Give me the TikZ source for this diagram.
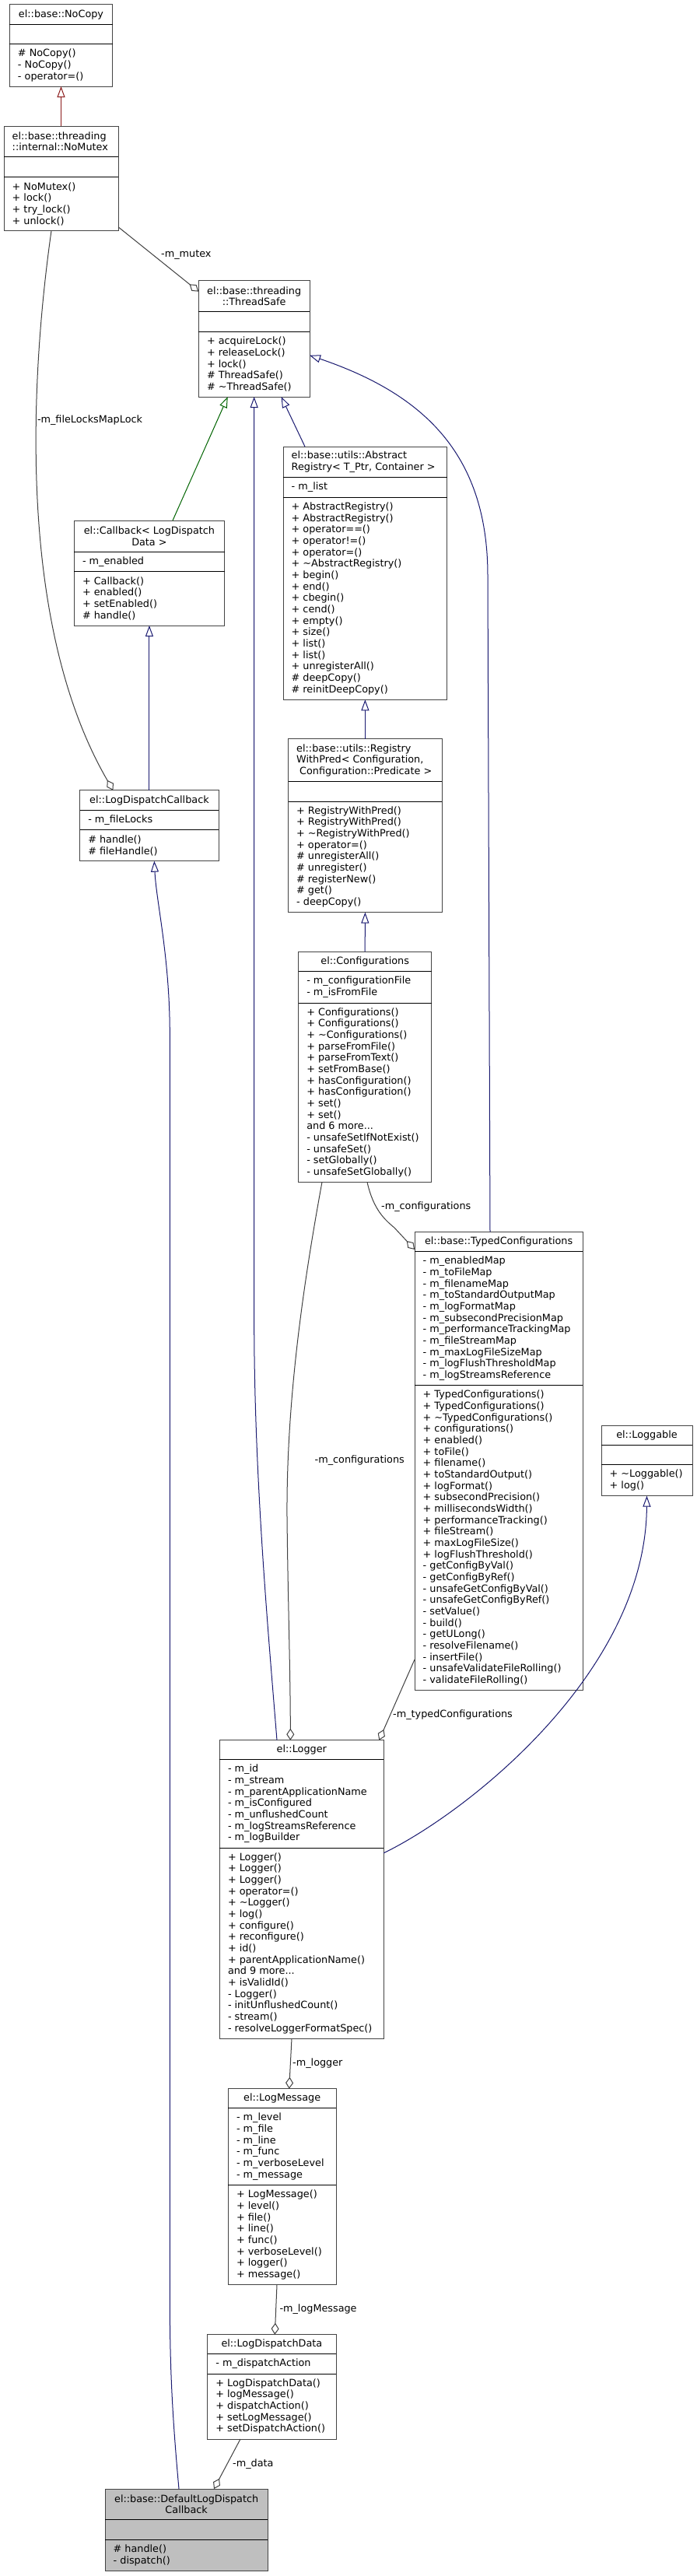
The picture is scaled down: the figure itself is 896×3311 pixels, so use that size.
\documentclass[tikz,border=0pt]{standalone}
\usepackage{fontspec}
\setmainfont{DejaVu Sans}
\usetikzlibrary{arrows.meta,calc}
\definecolor{inhblue}{HTML}{191970}
\definecolor{inhgreen}{HTML}{006400}
\definecolor{inhred}{HTML}{8B1A1A}
\definecolor{usegray}{HTML}{404040}
\definecolor{boxgray}{HTML}{444444}
\definecolor{defgray}{HTML}{BFBFBF}
\newcommand\dfont{\fontsize{12.8pt}{14.67pt}\selectfont}
\tikzset{
  cls/.style={rectangle, draw=boxgray, line width=1pt, inner sep=0pt, outer sep=0pt},
  sepl/.style={draw=black, line width=1pt},
  ttl/.style={font=\dfont, align=center, inner sep=0pt, anchor=center},
  ttll/.style={font=\dfont, align=left, inner sep=0pt, anchor=west},
  mem/.style={font=\dfont, align=left, inner sep=0pt, anchor=west},
  lbl/.style={font=\dfont, inner sep=0pt, anchor=west},
  pubinh/.style={draw=inhblue, line width=1pt, -{Triangle[open,length=14pt,width=10pt]}},
  protinh/.style={draw=inhgreen, line width=1pt, -{Triangle[open,length=14pt,width=10pt]}},
  privinh/.style={draw=inhred, line width=1pt, -{Triangle[open,length=14pt,width=10pt]}},
  usage/.style={draw=usegray, line width=1pt, -{Diamond[open,length=15pt,width=10pt]}}
}
% \umlbox[fill]{name}{x1}{y1}{x2}{y2}{sep1}{sep2}
\newcommand\umlbox[8][white]{%
  \pgfmathsetmacro\ubw{#5-#3}%
  \pgfmathsetmacro\ubh{#6-#4}%
  \pgfmathsetmacro\ubcx{(#3+#5)/2}%
  \pgfmathsetmacro\ubcy{(#4+#6)/2}%
  \pgfmathsetmacro\ubty{(#4+#7)/2}%
  \pgfmathsetmacro\ubay{(#7+#8)/2}%
  \pgfmathsetmacro\ubmy{(#8+#6)/2}%
  \pgfmathsetmacro\ubl{#3+10.5}%
  \node[cls, fill=#1, minimum width=\ubw pt, minimum height=\ubh pt] (#2) at (\ubcx,\ubcy) {};
  \draw[sepl] (#3,#7) -- (#5,#7);
  \draw[sepl] (#3,#8) -- (#5,#8);
  \coordinate (#2-t) at (\ubcx,\ubty);
  \coordinate (#2-tl) at (\ubl,\ubty);
  \coordinate (#2-a) at (\ubl,\ubay);
  \coordinate (#2-m) at (\ubl,\ubmy);
}
\begin{document}
\begin{tikzpicture}[x=1pt,y=-1pt]
\useasboundingbox[fill=white] (0,0) rectangle (896,3311);

% ---------- classes ----------
\umlbox{NoCopy}{12.3}{5.7}{144.7}{111}{31.7}{56.7}
\node[ttl] (NoCopy-title) at (NoCopy-t) {el::base::NoCopy};
\node[mem] (NoCopy-ops) at (NoCopy-m) {\# NoCopy()\\- NoCopy()\\- operator=()};

\umlbox{NoMutex}{5}{162}{152}{296.7}{201.7}{227.7}
\node[ttll] (NoMutex-title) at (NoMutex-tl) {el::base::threading\\::internal::NoMutex};
\node[mem] (NoMutex-ops) at (NoMutex-m) {+ NoMutex()\\+ lock()\\+ try\_lock()\\+ unlock()};

\umlbox{ThreadSafe}{255.3}{360.7}{398}{510}{400.7}{426}
\node[ttl] (ThreadSafe-title) at (ThreadSafe-t) {el::base::threading\\::ThreadSafe};
\node[mem] (ThreadSafe-ops) at (ThreadSafe-m) {+ acquireLock()\\+ releaseLock()\\+ lock()\\\# ThreadSafe()\\\# \textasciitilde ThreadSafe()};

\umlbox{AbsReg}{364}{574}{574.8}{899.3}{613.3}{639.3}
\node[ttll] (AbsReg-title) at (AbsReg-tl) {el::base::utils::Abstract\\Registry< T\_Ptr, Container >};
\node[mem] (AbsReg-attr) at (AbsReg-a) {- m\_list};
\node[mem] (AbsReg-ops) at (AbsReg-m) {+ AbstractRegistry()\\+ AbstractRegistry()\\+ operator==()\\+ operator!=()\\+ operator=()\\+ \textasciitilde AbstractRegistry()\\+ begin()\\+ end()\\+ cbegin()\\+ cend()\\+ empty()\\+ size()\\+ list()\\+ list()\\+ unregisterAll()\\\# deepCopy()\\\# reinitDeepCopy()};

\umlbox{Callback}{95.3}{669}{288.6}{804}{709}{734.3}
\node[ttl] (Callback-title) at (Callback-t) {el::Callback< LogDispatch\\Data >};
\node[mem] (Callback-attr) at (Callback-a) {- m\_enabled};
\node[mem] (Callback-ops) at (Callback-m) {+ Callback()\\+ enabled()\\+ setEnabled()\\\# handle()};

\umlbox{LDCb}{102.6}{1015.7}{281.3}{1106.7}{1041.3}{1066.7}
\node[ttl] (LDCb-title) at (LDCb-t) {el::LogDispatchCallback};
\node[mem] (LDCb-attr) at (LDCb-a) {- m\_fileLocks};
\node[mem] (LDCb-ops) at (LDCb-m) {\# handle()\\\# fileHandle()};

\umlbox{RegPred}{370.5}{949.7}{568.3}{1172.7}{1004.7}{1030}
\node[ttll] (RegPred-title) at (RegPred-tl) {el::base::utils::Registry\\WithPred< Configuration,\\\hspace*{4pt}Configuration::Predicate >};
\node[mem] (RegPred-ops) at (RegPred-m) {+ RegistryWithPred()\\+ RegistryWithPred()\\+ \textasciitilde RegistryWithPred()\\+ operator=()\\\# unregisterAll()\\\# unregister()\\\# registerNew()\\\# get()\\- deepCopy()};

\umlbox{Configs}{383.6}{1223}{554.7}{1519.3}{1248.7}{1289}
\node[ttl] (Configs-title) at (Configs-t) {el::Configurations};
\node[mem] (Configs-attr) at (Configs-a) {- m\_configurationFile\\- m\_isFromFile};
\node[mem] (Configs-ops) at (Configs-m) {+ Configurations()\\+ Configurations()\\+ \textasciitilde Configurations()\\+ parseFromFile()\\+ parseFromText()\\+ setFromBase()\\+ hasConfiguration()\\+ hasConfiguration()\\+ set()\\+ set()\\and 6 more...\\- unsafeSetIfNotExist()\\- unsafeSet()\\- setGlobally()\\- unsafeSetGlobally()};

\umlbox{TypedCfg}{533}{1583.3}{749.2}{2172.3}{1608.7}{1780.7}
\node[ttl] (TypedCfg-title) at (TypedCfg-t) {el::base::TypedConfigurations};
\node[mem] (TypedCfg-attr) at (TypedCfg-a) {- m\_enabledMap\\- m\_toFileMap\\- m\_filenameMap\\- m\_toStandardOutputMap\\- m\_logFormatMap\\- m\_subsecondPrecisionMap\\- m\_performanceTrackingMap\\- m\_fileStreamMap\\- m\_maxLogFileSizeMap\\- m\_logFlushThresholdMap\\- m\_logStreamsReference};
\node[mem] (TypedCfg-ops) at (TypedCfg-m) {+ TypedConfigurations()\\+ TypedConfigurations()\\+ \textasciitilde TypedConfigurations()\\+ configurations()\\+ enabled()\\+ toFile()\\+ filename()\\+ toStandardOutput()\\+ logFormat()\\+ subsecondPrecision()\\+ millisecondsWidth()\\+ performanceTracking()\\+ fileStream()\\+ maxLogFileSize()\\+ logFlushThreshold()\\- getConfigByVal()\\- getConfigByRef()\\- unsafeGetConfigByVal()\\- unsafeGetConfigByRef()\\- setValue()\\- build()\\- getULong()\\- resolveFilename()\\- insertFile()\\- unsafeValidateFileRolling()\\- validateFileRolling()};

\umlbox{Loggable}{773}{1832.7}{890}{1922.7}{1857.7}{1882.7}
\node[ttl] (Loggable-title) at (Loggable-t) {el::Loggable};
\node[mem] (Loggable-ops) at (Loggable-m) {+ \textasciitilde Loggable()\\+ log()};

\umlbox{Logger}{282.3}{2236.7}{493.3}{2620}{2261.7}{2375}
\node[ttl] (Logger-title) at (Logger-t) {el::Logger};
\node[mem] (Logger-attr) at (Logger-a) {- m\_id\\- m\_stream\\- m\_parentApplicationName\\- m\_isConfigured\\- m\_unflushedCount\\- m\_logStreamsReference\\- m\_logBuilder};
\node[mem] (Logger-ops) at (Logger-m) {+ Logger()\\+ Logger()\\+ Logger()\\+ operator=()\\+ \textasciitilde Logger()\\+ log()\\+ configure()\\+ reconfigure()\\+ id()\\+ parentApplicationName()\\and 9 more...\\+ isValidId()\\- Logger()\\- initUnflushedCount()\\- stream()\\- resolveLoggerFormatSpec()};

\umlbox{LogMsg}{293.3}{2684.7}{432}{2936.7}{2709.7}{2808.7}
\node[ttl] (LogMsg-title) at (LogMsg-t) {el::LogMessage};
\node[mem] (LogMsg-attr) at (LogMsg-a) {- m\_level\\- m\_file\\- m\_line\\- m\_func\\- m\_verboseLevel\\- m\_message};
\node[mem] (LogMsg-ops) at (LogMsg-m) {+ LogMessage()\\+ level()\\+ file()\\+ line()\\+ func()\\+ verboseLevel()\\+ logger()\\+ message()};

\umlbox{LDData}{266.7}{3000.7}{432}{3135}{3025.7}{3051}
\node[ttl] (LDData-title) at (LDData-t) {el::LogDispatchData};
\node[mem] (LDData-attr) at (LDData-a) {- m\_dispatchAction};
\node[mem] (LDData-ops) at (LDData-m) {+ LogDispatchData()\\+ logMessage()\\+ dispatchAction()\\+ setLogMessage()\\+ setDispatchAction()};

\umlbox[defgray]{DefLDCb}{135}{3199}{344.3}{3304.3}{3238.3}{3264.3}
\node[ttl] (DefLDCb-title) at (DefLDCb-t) {el::base::DefaultLogDispatch\\Callback};
\node[mem] (DefLDCb-ops) at (DefLDCb-m) {\# handle()\\- dispatch()};

% ---------- inheritance ----------
\draw[privinh] (NoMutex.north) -- (NoCopy.south);
\draw[protinh] ($(Callback.north west)+(126.7,0)$) -- ($(ThreadSafe.south west)+(37.5,0)$);
\draw[pubinh] ($(Logger.north west)+(73.7,0)$) .. controls (345,2100) and (326.8,1900) .. (326.7,1700) -- (ThreadSafe.south);
\draw[pubinh] ($(AbsReg.north west)+(28,0)$) -- ($(ThreadSafe.south west)+(106.3,0)$);
\draw[pubinh] ($(TypedCfg.north west)+(97,0)$) -- (627,740) .. controls (627,580) and (540,505) .. ($(ThreadSafe.north east)+(0,96)$);
\draw[pubinh] (RegPred.north) -- (AbsReg.south);
\draw[pubinh] (Configs.north) -- (RegPred.south);
\draw[pubinh] (LDCb.north) -- (Callback.south);
\draw[pubinh] ($(DefLDCb.north west)+(95,0)$) .. controls (221,3100) and (218.3,3040) .. (218.3,2950) -- (218.3,1330) .. controls (218.3,1230) and (201,1160) .. ($(LDCb.south west)+(95.7,0)$);
\draw[pubinh] ($(Logger.north east)+(0,145)$) .. controls (600,2330) and (830,2150) .. (Loggable.south);

% ---------- usage ----------
\draw[usage] ($(NoMutex.south east)+(0,-5)$) -- ($(ThreadSafe.north west)+(0,14)$);
\draw[usage] ($(NoMutex.south west)+(61,0)$) .. controls (40,480) and (20,800) .. ($(LDCb.north west)+(42.8,0)$);
\draw[usage] ($(Configs.south west)+(88.4,0)$) .. controls (480,1555) and (495,1568) .. (507,1578) -- ($(TypedCfg.north west)+(0,22.7)$);
\draw[usage] ($(Configs.south west)+(30.4,0)$) .. controls (390,1650) and (368,1800) .. (369,1950) .. controls (370,2050) and (373.3,2150) .. ($(Logger.north west)+(91,0)$);
\draw[usage] ($(TypedCfg.south west)+(0,-39.3)$) -- ($(Logger.north east)+(-6,0)$);
\draw[usage] ($(Logger.south west)+(92.7,0)$) -- ($(LogMsg.north west)+(78.4,0)$);
\draw[usage] ($(LogMsg.south west)+(62.7,0)$) -- ($(LDData.north west)+(86.6,0)$);
\draw[usage] ($(LDData.south west)+(42.3,0)$) -- ($(DefLDCb.north west)+(140,0)$);

% ---------- labels ----------
\node[lbl] (l-mutex) at (207,328) {-m\_mutex};
\node[lbl] (l-flml) at (47.8,540) {-m\_fileLocksMapLock};
\node[lbl] (l-cfg1) at (490,1550.7) {-m\_configurations};
\node[lbl] (l-cfg2) at (404.5,1876.7) {-m\_configurations};
\node[lbl] (l-tcfg) at (505,2204) {-m\_typedConfigurations};
\node[lbl] (l-logger) at (376,2651.7) {-m\_logger};
\node[lbl] (l-logmsg) at (359.3,2967.7) {-m\_logMessage};
\node[lbl] (l-data) at (299,3166.7) {-m\_data};
\end{tikzpicture}
\end{document}
